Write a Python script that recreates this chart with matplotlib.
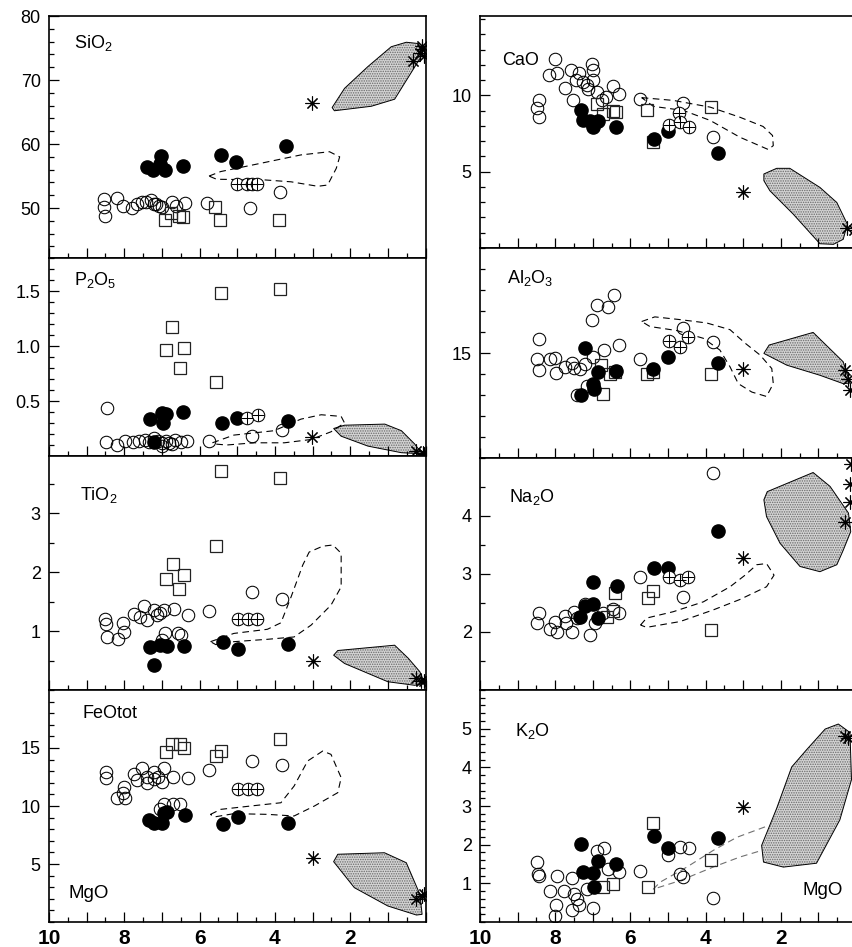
"""Harker-type MgO variation diagrams (8 panels, two columns)."""
import numpy as np
import matplotlib
matplotlib.use('Agg')
import matplotlib.pyplot as plt
from matplotlib.patches import Polygon
from matplotlib.ticker import MultipleLocator, FixedLocator, FuncFormatter

plt.rcParams['font.family'] = ['Liberation Sans', 'DejaVu Sans']
plt.rcParams['mathtext.fontset'] = 'custom'
plt.rcParams['mathtext.rm'] = 'Liberation Sans'
plt.rcParams['mathtext.it'] = 'Liberation Sans:italic'
plt.rcParams['hatch.linewidth'] = 0.7

W, H = 852, 947

# ---- data: (MgO, oxide) pairs -------------------------------------------
SIO2_OPEN = [(8.53, 51.4), (8.55, 50.1), (8.5, 48.75), (8.2, 51.5), (8.03, 50.3), (7.8, 49.95),
             (7.66, 50.7), (7.54, 50.9), (7.42, 50.9), (7.3, 51.2), (7.21, 50.7), (7.15, 50.6),
             (7.08, 50.4), (6.99, 50.2), (6.72, 50.9), (6.63, 50.3), (6.4, 50.8), (5.8, 50.8),
             (4.66, 49.95), (3.86, 52.55)]
SIO2_FILLED = [(7.39, 56.4), (7.23, 56.0), (7.02, 58.1), (7.05, 56.9), (6.92, 56.0), (6.44, 56.6),
               (5.44, 58.3), (5.02, 57.2), (3.71, 59.7)]
SIO2_CROSS = [(5.0, 53.7), (4.75, 53.7), (4.6, 53.7), (4.47, 53.7)]
SIO2_SQUARE = [(6.93, 48.1), (6.75, 49.2), (6.55, 48.75), (6.43, 48.6), (5.59, 50.2), (5.46, 48.1),
               (3.88, 48.1)]
SIO2_STAR = [(3.02, 66.4), (0.33, 72.9), (0.15, 74.2), (0.08, 74.8), (0.05, 73.8), (0.1, 75.3)]
SIO2_FIELD = [(2.48, 65.7), (2.15, 68.7), (1.53, 72.1), (0.91, 75.2), (0.51, 75.9), (0.19, 75.7),
              (0.09, 73.9), (0.82, 67.0), (1.44, 65.9), (2.42, 65.2)]
SIO2_DASHED = [(5.75, 55.0), (5.44, 55.7), (4.37, 57.0), (3.31, 58.3), (2.55, 58.8), (2.28, 58.0),
               (2.37, 56.2), (2.6, 53.6), (2.86, 53.4), (3.57, 54.1), (4.28, 54.4), (5.55, 54.5)]

P2O5_OPEN = [(8.46, 0.44), (8.48, 0.13), (8.2, 0.10), (7.99, 0.14), (7.76, 0.13), (7.6, 0.14),
             (7.45, 0.15), (7.35, 0.13), (7.2, 0.16), (7.1, 0.14), (7.0, 0.12), (6.99, 0.09),
             (6.9, 0.14), (6.8, 0.12), (6.72, 0.11), (6.65, 0.15), (6.5, 0.13), (6.33, 0.14),
             (5.75, 0.14), (4.62, 0.18), (3.8, 0.24)]
P2O5_FILLED = [(7.33, 0.34), (7.2, 0.13), (7.0, 0.39), (6.89, 0.38), (6.98, 0.30), (6.43, 0.40),
               (5.4, 0.30), (5.0, 0.35), (3.66, 0.32)]
P2O5_CROSS = [(4.75, 0.35), (4.45, 0.375)]
P2O5_SQUARE = [(6.89, 0.96), (6.73, 1.17), (6.42, 0.98), (6.53, 0.80), (5.57, 0.67), (5.42, 1.48),
               (3.86, 1.515)]
P2O5_STAR = [(3.02, 0.17), (0.24, 0.05), (0.07, 0.025), (0.03, 0.02)]
P2O5_FIELD = [(2.44, 0.25), (2.15, 0.28), (1.08, 0.29), (0.64, 0.23), (0.29, 0.11), (0.09, 0.02),
              (0.64, 0.03), (1.53, 0.09), (2.24, 0.18)]
P2O5_DASHED = [(5.66, 0.12), (5.09, 0.19), (4.02, 0.23), (3.31, 0.335), (2.77, 0.375), (2.24, 0.36),
               (2.15, 0.30), (2.51, 0.22), (3.04, 0.15), (3.75, 0.12), (4.55, 0.12), (5.28, 0.10),
               (5.63, 0.11)]

TIO2_OPEN = [(8.51, 1.21), (8.48, 1.12), (8.47, 0.90), (8.18, 0.86), (8.03, 1.14), (8.0, 0.99),
             (7.75, 1.29), (7.59, 1.24), (7.47, 1.43), (7.4, 1.19), (7.22, 1.36), (7.13, 1.27),
             (7.04, 1.31), (6.95, 1.35), (6.69, 1.37), (6.31, 1.28), (5.75, 1.34), (6.93, 0.96),
             (7.0, 0.85), (6.58, 0.96), (6.5, 0.94), (4.62, 1.66), (3.8, 1.54)]
TIO2_FILLED = [(7.33, 0.73), (7.22, 0.42), (7.04, 0.76), (6.87, 0.74), (6.42, 0.74), (5.39, 0.81),
               (4.99, 0.69), (3.66, 0.78)]
TIO2_CROSS = [(4.98, 1.2), (4.72, 1.2), (4.48, 1.2)]
TIO2_SQUARE = [(6.88, 1.89), (6.71, 2.13), (6.42, 1.95), (6.55, 1.71), (5.57, 2.44), (5.42, 3.72),
               (3.86, 3.59)]
TIO2_STAR = [(2.99, 0.5), (0.24, 0.2), (0.12, 0.16), (0.03, 0.15)]
TIO2_FIELD = [(2.44, 0.59), (2.33, 0.67), (0.82, 0.76), (0.46, 0.54), (0.15, 0.31), (0.02, 0.11),
              (0.29, 0.08), (1.0, 0.14), (2.15, 0.45)]
TIO2_DASHED = [(5.71, 0.82), (5.09, 0.96), (4.2, 1.03), (3.84, 1.14), (3.57, 1.58), (3.26, 2.12),
               (3.09, 2.34), (2.73, 2.44), (2.46, 2.46), (2.24, 2.32), (2.24, 1.75), (2.51, 1.44),
               (3.04, 1.10), (3.49, 0.90), (4.2, 0.86), (5.09, 0.82), (5.57, 0.77)]

FEO_OPEN = [(8.48, 12.96), (8.48, 12.44), (8.19, 10.66), (8.03, 11.15), (8.01, 11.64), (7.98, 10.7),
            (7.75, 12.73), (7.65, 12.2), (7.53, 13.25), (7.4, 12.0), (7.4, 12.5), (7.22, 12.9),
            (7.2, 12.3), (7.1, 12.5), (7.0, 12.1), (6.95, 13.25), (6.7, 12.47), (6.3, 12.4),
            (6.95, 10.2), (6.7, 10.2), (6.52, 10.2), (7.05, 9.7), (5.75, 13.08), (4.62, 13.88),
            (3.8, 13.53)]
FEO_FILLED = [(7.35, 8.77), (7.22, 8.56), (7.0, 8.56), (6.95, 9.42), (6.87, 9.5), (6.4, 9.22),
              (5.39, 8.47), (4.99, 9.05), (3.66, 8.5)]
FEO_CROSS = [(4.98, 11.44), (4.72, 11.44), (4.48, 11.44)]
FEO_SQUARE = [(6.89, 14.66), (6.73, 15.37), (6.53, 15.37), (6.42, 14.97), (5.57, 14.31),
              (5.42, 14.74), (3.86, 15.8)]
FEO_STAR = [(2.99, 5.54), (0.24, 1.95), (0.09, 2.24), (0.03, 2.4)]
FEO_FIELD = [(2.44, 5.2), (2.33, 5.84), (1.09, 5.97), (0.51, 5.11), (0.15, 2.39), (0.09, 0.66),
             (0.24, 0.6), (1.0, 1.38), (1.89, 2.96)]
FEO_DASHED = [(5.71, 9.28), (5.44, 9.71), (4.64, 10.0), (3.84, 10.28), (3.49, 11.72), (3.13, 13.88),
              (2.73, 14.74), (2.51, 14.45), (2.24, 12.44), (2.33, 11.15), (2.95, 10.0), (3.49, 9.14),
              (4.2, 9.28), (5.09, 9.34), (5.62, 9.05)]

CAO_OPEN = [(8.42, 9.72), (8.48, 9.19), (8.44, 8.57), (8.16, 11.32), (8.0, 12.35), (7.96, 11.47),
            (7.74, 10.5), (7.59, 11.64), (7.53, 9.72), (7.36, 11.47), (7.45, 11.03), (7.25, 10.9),
            (7.16, 10.66), (7.12, 10.44), (7.03, 12.08), (6.99, 11.64), (6.99, 10.99), (6.9, 10.22),
            (6.76, 9.67), (6.65, 9.89), (6.45, 10.59), (6.3, 10.07), (5.74, 9.74), (4.61, 9.49),
            (3.8, 7.3)]
CAO_FILLED = [(7.31, 9.06), (7.25, 8.4), (7.07, 8.29), (6.99, 7.96), (6.85, 8.29), (6.38, 7.92),
              (5.37, 7.15), (4.99, 7.65), (3.66, 6.23)]
CAO_CROSS = [(4.97, 8.03), (4.7, 8.84), (4.69, 8.24), (4.43, 7.96)]
CAO_SQUARE = [(6.9, 9.41), (6.74, 8.8), (6.47, 8.97), (6.39, 8.9), (5.55, 9.01), (5.41, 6.93),
              (3.86, 9.23)]
CAO_STAR = [(3.0, 3.7), (0.25, 1.34), (0.05, 1.2)]
CAO_FIELD = [(2.45, 4.85), (2.11, 5.22), (1.76, 5.22), (0.96, 3.97), (0.51, 2.98), (0.23, 1.56),
             (0.34, 0.57), (0.6, 0.24), (0.96, 0.28), (1.67, 2.22), (2.29, 3.75), (2.45, 4.41)]
CAO_DASHED = [(5.7, 9.85), (4.86, 9.67), (3.88, 9.23), (3.09, 8.57), (2.47, 7.96), (2.22, 7.37),
              (2.2, 6.71), (2.33, 6.45), (3.09, 7.26), (3.88, 8.36), (4.59, 9.01), (5.39, 9.28)]

AL2O3_OPEN = [(8.42, 15.66), (8.48, 14.71), (8.44, 14.18), (8.14, 14.71), (8.0, 14.74), (7.98, 14.05),
              (7.74, 14.31), (7.56, 14.5), (7.5, 14.3), (7.34, 14.26), (7.21, 14.48), (7.16, 13.43),
              (7.01, 16.55), (6.9, 17.27), (6.59, 17.2), (6.44, 17.74), (6.69, 15.14), (6.3, 15.38),
              (6.99, 14.82), (7.43, 12.98), (5.74, 14.7), (4.61, 16.19), (3.8, 15.54)]
AL2O3_FILLED = [(7.21, 15.25), (6.85, 14.1), (6.99, 13.54), (6.98, 13.3), (7.31, 12.98),
                (6.37, 14.13), (5.39, 14.26), (4.99, 14.82), (3.66, 14.53)]
AL2O3_CROSS = [(4.97, 15.58), (4.68, 15.3), (4.46, 15.74)]
AL2O3_SQUARE = [(6.79, 14.42), (6.54, 14.02), (6.41, 14.1), (6.72, 13.03), (5.55, 13.99),
                (5.41, 14.1), (3.86, 13.99)]
AL2O3_STAR = [(3.01, 14.22), (0.29, 14.18), (0.2, 13.78), (0.16, 13.22)]
AL2O3_FIELD = [(2.45, 14.98), (2.31, 15.38), (1.14, 15.98), (0.34, 14.58), (0.16, 13.57),
               (0.34, 13.54), (0.96, 13.94), (1.84, 14.42)]
AL2O3_DASHED = [(5.7, 16.5), (5.35, 16.72), (4.68, 16.59), (3.97, 16.43), (3.35, 16.11),
                (2.95, 15.47), (2.55, 14.9), (2.24, 14.26), (2.2, 13.54), (2.38, 12.93),
                (2.77, 13.14), (3.13, 13.54), (3.35, 14.34), (3.62, 15.14), (4.06, 15.7),
                (4.77, 16.07), (5.48, 16.26)]

NA2O_OPEN = [(8.42, 2.32), (8.48, 2.16), (8.14, 2.06), (8.0, 2.18), (7.94, 2.0), (7.74, 2.28),
             (7.7, 2.15), (7.56, 2.0), (7.5, 2.35), (7.43, 2.24), (7.21, 2.49), (7.07, 1.94),
             (6.95, 2.15), (6.74, 2.32), (6.47, 2.39), (6.3, 2.33), (5.74, 2.94), (4.61, 2.6),
             (3.8, 4.75)]
NA2O_FILLED = [(6.99, 2.86), (6.36, 2.79), (7.21, 2.44), (6.99, 2.49), (7.34, 2.26), (6.85, 2.24),
               (5.37, 3.1), (4.99, 3.1), (3.66, 3.75)]
NA2O_CROSS = [(4.97, 2.95), (4.68, 2.9), (4.46, 2.95)]
NA2O_SQUARE = [(6.41, 2.68), (6.63, 2.26), (6.47, 2.36), (5.54, 2.58), (5.41, 2.71), (3.86, 2.04)]
NA2O_STAR = [(3.01, 3.27), (0.29, 3.9), (0.16, 4.25), (0.16, 4.56), (0.12, 4.9)]
NA2O_FIELD = [(2.45, 4.28), (2.36, 4.42), (1.14, 4.75), (0.69, 4.51), (0.2, 4.05), (0.14, 3.73),
              (0.34, 3.41), (0.51, 3.16), (0.96, 3.04), (1.49, 3.13), (2.02, 3.53), (2.38, 3.99)]
NA2O_DASHED = [(5.73, 2.12), (5.57, 2.24), (4.86, 2.35), (4.06, 2.52), (3.35, 2.78), (2.95, 2.98),
               (2.64, 3.16), (2.38, 3.18), (2.18, 2.98), (2.38, 2.78), (3.09, 2.56), (3.8, 2.38),
               (4.68, 2.18), (5.57, 2.08)]

K2O_OPEN = [(8.48, 1.55), (8.42, 1.2), (8.45, 1.25), (8.14, 0.81), (7.98, 0.44), (8.0, 0.16),
            (7.94, 1.2), (7.77, 0.79), (7.56, 1.14), (7.56, 0.31), (7.5, 0.72), (7.43, 0.59),
            (7.36, 0.44), (7.16, 0.85), (6.99, 0.37), (6.9, 1.84), (6.7, 1.92), (6.59, 1.38),
            (6.3, 1.29), (5.74, 1.31), (4.99, 1.72), (4.68, 1.94), (4.43, 1.92), (4.68, 1.25),
            (4.61, 1.16), (3.8, 0.62)]
K2O_FILLED = [(7.31, 2.03), (7.25, 1.29), (6.99, 1.26), (6.98, 0.9), (6.85, 1.59), (6.38, 1.51),
              (5.37, 2.22), (4.99, 1.91), (3.66, 2.16)]
K2O_CROSS = []
K2O_SQUARE = [(6.74, 0.9), (6.45, 0.98), (5.52, 0.91), (5.41, 2.57), (3.86, 1.61)]
K2O_STAR = [(3.01, 2.98), (0.29, 4.8), (0.2, 4.75)]
K2O_FIELD = [(2.51, 1.98), (2.46, 1.55), (1.93, 1.42), (1.05, 1.52), (0.43, 2.64), (0.12, 3.68),
             (0.16, 4.9), (0.47, 5.12), (0.82, 4.99), (1.31, 4.46), (1.71, 4.01), (2.11, 2.94)]
K2O_DASHED = [(2.42, 2.46), (3.17, 2.19), (3.8, 1.85), (4.5, 1.42), (5.21, 1.03), (5.39, 0.85),
              (4.68, 1.07), (3.8, 1.42), (3.09, 1.68), (2.51, 1.85)]

# ---- layout (pixel boxes: left, top, right, bottom) ---------------------
PANELS = [
    dict(box=(49, 16, 425.5, 258), ylim=(42.2, 80), major=[50, 60, 70, 80], minor=2, fmt='%d',
         label='SiO$_2$', lpos=(74, 48), data=(SIO2_OPEN, SIO2_SQUARE, SIO2_FILLED, SIO2_CROSS,
                                              SIO2_STAR, SIO2_FIELD, SIO2_DASHED), bottom=False),
    dict(box=(49, 258, 425.5, 456), ylim=(0, 1.8), major=[0.5, 1.0, 1.5], minor=0.1, fmt='%.1f',
         label='P$_2$O$_5$', lpos=(74, 285), data=(P2O5_OPEN, P2O5_SQUARE, P2O5_FILLED, P2O5_CROSS,
                                                   P2O5_STAR, P2O5_FIELD, P2O5_DASHED), bottom=False),
    dict(box=(49, 456, 425.5, 690), ylim=(0, 3.97), major=[1, 2, 3], minor=0.5, fmt='%d',
         label='TiO$_2$', lpos=(80, 500), data=(TIO2_OPEN, TIO2_SQUARE, TIO2_FILLED, TIO2_CROSS,
                                               TIO2_STAR, TIO2_FIELD, TIO2_DASHED), bottom=False),
    dict(box=(49, 690, 425.5, 922), ylim=(0, 20), major=[5, 10, 15], minor=1, fmt='%d',
         label='FeOtot', lpos=(83, 718), data=(FEO_OPEN, FEO_SQUARE, FEO_FILLED, FEO_CROSS,
                                              FEO_STAR, FEO_FIELD, FEO_DASHED), bottom=True,
         mgo=(68, 898)),
    dict(box=(480, 16, 856, 248), ylim=(0, 15.2), major=[5, 10], minor=1, fmt='%d',
         label='CaO', lpos=(502, 65), data=(CAO_OPEN, CAO_SQUARE, CAO_FILLED, CAO_CROSS,
                                           CAO_STAR, CAO_FIELD, CAO_DASHED), bottom=False),
    dict(box=(480, 248, 856, 458), ylim=(10, 20), major=[15], minor=1, fmt='%d',
         label='Al$_2$O$_3$', lpos=(507, 283), data=(AL2O3_OPEN, AL2O3_SQUARE, AL2O3_FILLED,
                                                    AL2O3_CROSS, AL2O3_STAR, AL2O3_FIELD,
                                                    AL2O3_DASHED), bottom=False),
    dict(box=(480, 458, 856, 690), ylim=(1, 5), major=[2, 3, 4], minor=0.5, fmt='%d',
         label='Na$_2$O', lpos=(509, 502), data=(NA2O_OPEN, NA2O_SQUARE, NA2O_FILLED, NA2O_CROSS,
                                                NA2O_STAR, NA2O_FIELD, NA2O_DASHED), bottom=False),
    dict(box=(480, 690, 856, 922), ylim=(0, 6), major=[1, 2, 3, 4, 5], minor=0.2, fmt='%d',
         label='K$_2$O', lpos=(515, 736), data=(K2O_OPEN, K2O_SQUARE, K2O_FILLED, K2O_CROSS,
                                               K2O_STAR, K2O_FIELD, K2O_DASHED), bottom=True,
         mgo=(803, 895), open_dash=True),
]


def xy(pairs):
    if not pairs:
        return [], []
    a = np.array(pairs, dtype=float)
    return a[:, 0], a[:, 1]


def xlabel_fmt(v, pos):
    iv = int(round(v))
    return str(iv) if iv % 2 == 0 and iv >= 2 else ''


def draw_panel(fig, p):
    l, t, r, b = p['box']
    ax = fig.add_axes([l / W, 1 - b / H, (r - l) / W, (b - t) / H])
    opn, sq, fil, crs, star, field, dashed = p['data']

    # shaded (stippled) field
    ax.add_patch(Polygon(field, closed=True, facecolor='#d4d4d4', edgecolor='#6a6a6a',
                         hatch='.......', lw=0, zorder=1))
    ax.add_patch(Polygon(field, closed=True, fill=False, edgecolor='black', lw=0.7, zorder=1.1))

    # dashed envelope
    dx, dy = xy(dashed)
    if p.get('open_dash'):
        ax.plot(dx, dy, ls=(0, (6, 4)), color='#707070', lw=0.8, zorder=1.2)
    else:
        ax.plot(np.append(dx, dx[0]), np.append(dy, dy[0]), ls=(0, (6, 4)), color='black',
                lw=0.8, zorder=1.2)

    x, y = xy(opn)
    ax.plot(x, y, 'o', ms=9, mfc='none', mec='black', mew=0.75, ls='none', zorder=3)
    x, y = xy(sq)
    ax.plot(x, y, 's', ms=8.5, mfc='none', mec='#222222', mew=0.9, ls='none', zorder=3)
    x, y = xy(fil)
    ax.plot(x, y, 'o', ms=9.5, color='black', ls='none', zorder=4)
    x, y = xy(crs)
    if len(x):
        ax.plot(x, y, 'o', ms=9, mfc='white', mec='black', mew=0.75, ls='none', zorder=4)
        ax.plot(x, y, '+', ms=9, color='black', mew=0.75, ls='none', zorder=4.1)
    x, y = xy(star)
    ax.plot(x, y, marker=(8, 2, 0), ms=10, color='black', mew=0.8, ls='none', zorder=5)

    ax.set_xlim(10, 0)
    ax.set_ylim(*p['ylim'])
    ax.xaxis.set_major_locator(FixedLocator(np.arange(0, 11)))
    ax.xaxis.set_minor_locator(MultipleLocator(0.5))
    ax.yaxis.set_major_locator(FixedLocator(p['major']))
    ax.yaxis.set_minor_locator(MultipleLocator(p['minor']))
    ax.yaxis.set_major_formatter(FuncFormatter(lambda v, pos, f=p['fmt']: f % v))
    ax.xaxis.set_major_formatter(FuncFormatter(xlabel_fmt))

    ax.tick_params(axis='both', which='both', direction='in', top=False, right=False,
                   width=0.9, color='black')
    ax.tick_params(axis='both', which='major', length=7)
    ax.tick_params(axis='both', which='minor', length=3.5)
    ax.tick_params(axis='y', labelsize=13, pad=6)
    ax.tick_params(axis='x', labelsize=15, pad=5, labelbottom=p['bottom'])
    for lab in ax.get_xticklabels():
        lab.set_fontweight('bold')
    for s in ax.spines.values():
        s.set_linewidth(1.2)

    fig.text(p['lpos'][0] / W, 1 - p['lpos'][1] / H, p['label'], fontsize=13,
             ha='left', va='baseline')
    if 'mgo' in p:
        fig.text(p['mgo'][0] / W, 1 - p['mgo'][1] / H, 'MgO', fontsize=13.5,
                 ha='left', va='baseline')
    return ax


def main():
    fig = plt.figure(figsize=(W / 100, H / 100), dpi=100)
    for p in PANELS:
        draw_panel(fig, p)
    fig.savefig('out.png', dpi=100)
    plt.close(fig)


if __name__ == '__main__':
    main()
